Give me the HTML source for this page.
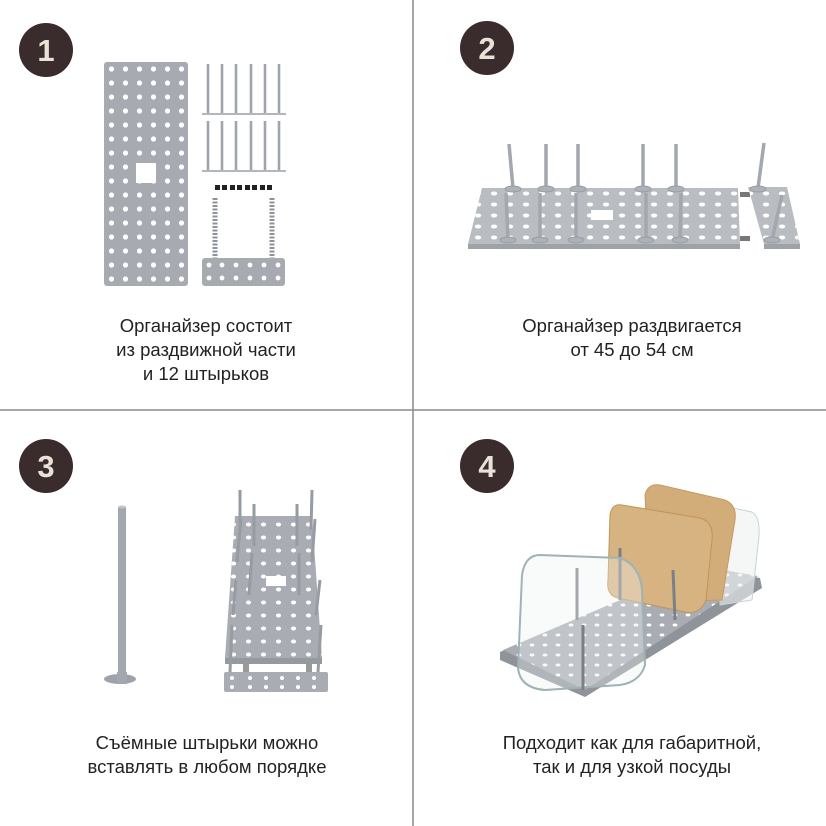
<!DOCTYPE html>
<html><head><meta charset="utf-8"><style>
html,body{margin:0;padding:0;background:#fff;}
body{width:826px;height:826px;overflow:hidden;}
svg{display:block}
text{font-family:"Liberation Sans",sans-serif;}
</style></head><body>
<svg width="826" height="826" viewBox="0 0 826 826" xmlns="http://www.w3.org/2000/svg">
<defs>
<pattern id="h1" x="104" y="62" width="14" height="14" patternUnits="userSpaceOnUse"><circle cx="7.5" cy="7" r="2.6" fill="#fff"/></pattern>
<pattern id="h2" x="470" y="188" width="16" height="11" patternUnits="userSpaceOnUse"><ellipse cx="8" cy="5.5" rx="3.2" ry="2" fill="#fff"/></pattern>
<pattern id="h3" x="226" y="505" width="15" height="13" patternUnits="userSpaceOnUse"><ellipse cx="7.5" cy="6.5" rx="2.6" ry="2" fill="#fff"/></pattern>
<pattern id="h4" x="500" y="560" width="13" height="10" patternUnits="userSpaceOnUse"><ellipse cx="6" cy="5" rx="2.4" ry="1.5" fill="#fff"/></pattern>
</defs>
<rect width="826" height="826" fill="#fff"/>
<line x1="413" y1="0" x2="413" y2="826" stroke="#8a8a8a" stroke-width="1.5"/>
<line x1="0" y1="410" x2="826" y2="410" stroke="#8a8a8a" stroke-width="1.5"/>

<g fill="#3a2b2c">
<circle cx="46" cy="50" r="27"/><circle cx="487" cy="48" r="27"/>
<circle cx="46" cy="466" r="27"/><circle cx="487" cy="466" r="27"/>
</g>
<g fill="#e8e2d8" font-size="31" font-weight="bold" text-anchor="middle">
<text x="46" y="61">1</text><text x="487" y="59">2</text>
<text x="46" y="477">3</text><text x="487" y="477">4</text>
</g>

<!-- Panel 1 -->
<rect x="104" y="62" width="84" height="224" rx="3" fill="#a7abb1"/>
<rect x="104" y="62" width="84" height="224" fill="url(#h1)"/>
<rect x="136" y="163" width="20" height="20" fill="#fff"/>
<g stroke="#a0a5ac" stroke-width="2.6">
<line x1="208" y1="64" x2="208" y2="113"/><line x1="222" y1="64" x2="222" y2="113"/><line x1="236" y1="64" x2="236" y2="113"/><line x1="251" y1="64" x2="251" y2="113"/><line x1="265" y1="64" x2="265" y2="113"/><line x1="279" y1="64" x2="279" y2="113"/>
<line x1="208" y1="121" x2="208" y2="170"/><line x1="222" y1="121" x2="222" y2="170"/><line x1="236" y1="121" x2="236" y2="170"/><line x1="251" y1="121" x2="251" y2="170"/><line x1="265" y1="121" x2="265" y2="170"/><line x1="279" y1="121" x2="279" y2="170"/>
</g>
<g stroke="#9a9fa6" stroke-width="1.5">
<line x1="202" y1="114" x2="286" y2="114"/><line x1="202" y1="171" x2="286" y2="171"/>
</g>
<g fill="#222"><rect x="215" y="185" width="5" height="5"/><rect x="222" y="185" width="5" height="5"/><rect x="230" y="185" width="5" height="5"/><rect x="237" y="185" width="5" height="5"/><rect x="245" y="185" width="5" height="5"/><rect x="252" y="185" width="5" height="5"/><rect x="260" y="185" width="5" height="5"/><rect x="267" y="185" width="5" height="5"/></g>
<g stroke="#8e939a" stroke-width="5" stroke-dasharray="2 1.5"><line x1="215" y1="198" x2="215" y2="258"/><line x1="272" y1="198" x2="272" y2="258"/></g>
<rect x="202" y="258" width="83" height="28" rx="3" fill="#a7abb1"/>
<g fill="#fff"><circle cx="209" cy="265" r="2.4"/><circle cx="222" cy="265" r="2.4"/><circle cx="236" cy="265" r="2.4"/><circle cx="250" cy="265" r="2.4"/><circle cx="264" cy="265" r="2.4"/><circle cx="278" cy="265" r="2.4"/>
<circle cx="209" cy="278" r="2.4"/><circle cx="222" cy="278" r="2.4"/><circle cx="236" cy="278" r="2.4"/><circle cx="250" cy="278" r="2.4"/><circle cx="264" cy="278" r="2.4"/><circle cx="278" cy="278" r="2.4"/></g>

<!-- Panel 2 -->
<polygon points="482,188 738,188 740,244 468,244" fill="#b9bdc2"/>
<polygon points="482,188 738,188 740,244 468,244" fill="url(#h2)"/>
<rect x="468" y="244" width="272" height="5" fill="#9ea3a9"/>
<rect x="591" y="210" width="22" height="10" fill="#fff"/>
<rect x="740" y="192" width="10" height="5" fill="#777"/><rect x="740" y="236" width="10" height="5" fill="#777"/>
<polygon points="748,187 787,187 800,244 764,244" fill="#b9bdc2"/>
<polygon points="748,187 787,187 800,244 764,244" fill="url(#h2)"/>
<rect x="764" y="244" width="36" height="5" fill="#9ea3a9"/>
<g stroke="#a3a8ae" stroke-width="3.5">
<line x1="509" y1="144" x2="513" y2="188"/><line x1="546" y1="144" x2="546" y2="188"/><line x1="578" y1="144" x2="578" y2="188"/><line x1="643" y1="144" x2="643" y2="188"/><line x1="676" y1="144" x2="676" y2="188"/><line x1="764" y1="143" x2="758" y2="188"/>
<line x1="506" y1="193" x2="508" y2="240"/><line x1="540" y1="193" x2="540" y2="240"/><line x1="576" y1="193" x2="576" y2="240"/><line x1="646" y1="193" x2="646" y2="240"/><line x1="681" y1="193" x2="680" y2="240"/><line x1="782" y1="195" x2="772" y2="240"/>
</g>
<g fill="#aeb2b8" stroke="#989da4"><ellipse cx="513" cy="189" rx="8" ry="3"/><ellipse cx="546" cy="189" rx="8" ry="3"/><ellipse cx="578" cy="189" rx="8" ry="3"/><ellipse cx="643" cy="189" rx="8" ry="3"/><ellipse cx="676" cy="189" rx="8" ry="3"/><ellipse cx="758" cy="189" rx="8" ry="3"/>
<ellipse cx="508" cy="240" rx="8" ry="3"/><ellipse cx="540" cy="240" rx="8" ry="3"/><ellipse cx="576" cy="240" rx="8" ry="3"/><ellipse cx="646" cy="240" rx="8" ry="3"/><ellipse cx="680" cy="240" rx="8" ry="3"/><ellipse cx="772" cy="240" rx="8" ry="3"/></g>

<!-- Panel 3 -->
<line x1="122" y1="507" x2="122" y2="672" stroke="#a3a8ae" stroke-width="8"/>
<ellipse cx="122" cy="507" rx="4" ry="1.5" fill="#c2c6cb"/>
<ellipse cx="120" cy="679" rx="16" ry="5" fill="#9ea3a9"/>
<rect x="117" y="672" width="10" height="12" fill="#a3a8ae"/>
<polygon points="235,516 312,516 322,658 225,658" fill="#a9adb3"/>
<polygon points="235,516 312,516 322,658 225,658" fill="url(#h3)"/>
<rect x="225" y="658" width="97" height="6" fill="#959aa1"/>
<rect x="266" y="576" width="20" height="10" fill="#fff"/>
<rect x="243" y="664" width="6" height="10" fill="#999"/><rect x="306" y="664" width="6" height="10" fill="#999"/>
<rect x="224" y="672" width="104" height="20" rx="2" fill="#a9adb3"/>
<g fill="#fff"><circle cx="232" cy="678" r="2"/><circle cx="250" cy="678" r="2"/><circle cx="266" cy="678" r="2"/><circle cx="282" cy="678" r="2"/><circle cx="298" cy="678" r="2"/><circle cx="314" cy="678" r="2"/><circle cx="232" cy="687" r="2"/><circle cx="250" cy="687" r="2"/><circle cx="266" cy="687" r="2"/><circle cx="282" cy="687" r="2"/><circle cx="298" cy="687" r="2"/><circle cx="314" cy="687" r="2"/></g>
<g stroke="#979ca3" stroke-width="3">
<line x1="240" y1="490" x2="240" y2="530"/><line x1="312" y1="490" x2="311" y2="530"/><line x1="254" y1="504" x2="254" y2="546"/><line x1="297" y1="504" x2="297" y2="546"/>
<line x1="241" y1="519" x2="237" y2="562"/><line x1="315" y1="519" x2="312" y2="562"/><line x1="252" y1="553" x2="249" y2="595"/><line x1="299" y1="553" x2="299" y2="595"/>
<line x1="236" y1="580" x2="233" y2="615"/><line x1="320" y1="580" x2="316" y2="615"/><line x1="232" y1="625" x2="230" y2="672"/><line x1="321" y1="625" x2="318" y2="672"/>
</g>

<!-- Panel 4 -->
<polygon points="500,652 700,568 760,578 762,588 585,697 500,660" fill="#8f949b"/>
<polygon points="503,650 700,566 758,576 585,690" fill="#a9adb3"/>
<polygon points="503,650 700,566 758,576 585,690" fill="url(#h4)"/>
<path d="M718,505 L752,512 Q762,518 758,545 L752,600 L720,605Z" fill="#eef1f2" fill-opacity="0.6" stroke="#c9d3d5"/>
<path d="M660,485 L725,500 Q737,505 735,520 L722,600 L650,602 L645,495 Q648,483 660,485Z" fill="#d3ad79" stroke="#c49a62"/>
<path d="M622,505 L700,518 Q714,522 712,540 L706,600 Q700,615 685,612 L618,598 Q606,595 608,580 L610,515 Q612,503 622,505Z" fill="#d7b382" stroke="#bf935a"/>
<g stroke="#7b8087" stroke-width="3"><line x1="620" y1="548" x2="620" y2="600"/><line x1="673" y1="570" x2="675" y2="620"/><line x1="577" y1="568" x2="577" y2="620"/></g>
<path d="M540,555 L620,558 Q640,565 642,590 L645,665 Q640,682 620,685 L545,690 Q520,688 518,668 L522,575 Q525,555 540,555Z" fill="#eef3f4" fill-opacity="0.35" stroke="#9fb2b4" stroke-width="2"/>
<line x1="583" y1="625" x2="583" y2="690" stroke="#7b8087" stroke-width="3"/>

<g font-size="18.5" fill="#222" text-anchor="middle">
<text x="206" y="332">Органайзер состоит</text>
<text x="206" y="356">из раздвижной части</text>
<text x="206" y="380">и 12 штырьков</text>
<text x="632" y="332">Органайзер раздвигается</text>
<text x="632" y="356">от 45 до 54 см</text>
<text x="207" y="749">Съёмные штырьки можно</text>
<text x="207" y="773">вставлять в любом порядке</text>
<text x="632" y="749">Подходит как для габаритной,</text>
<text x="632" y="773">так и для узкой посуды</text>
</g>
</svg>
</body></html>
